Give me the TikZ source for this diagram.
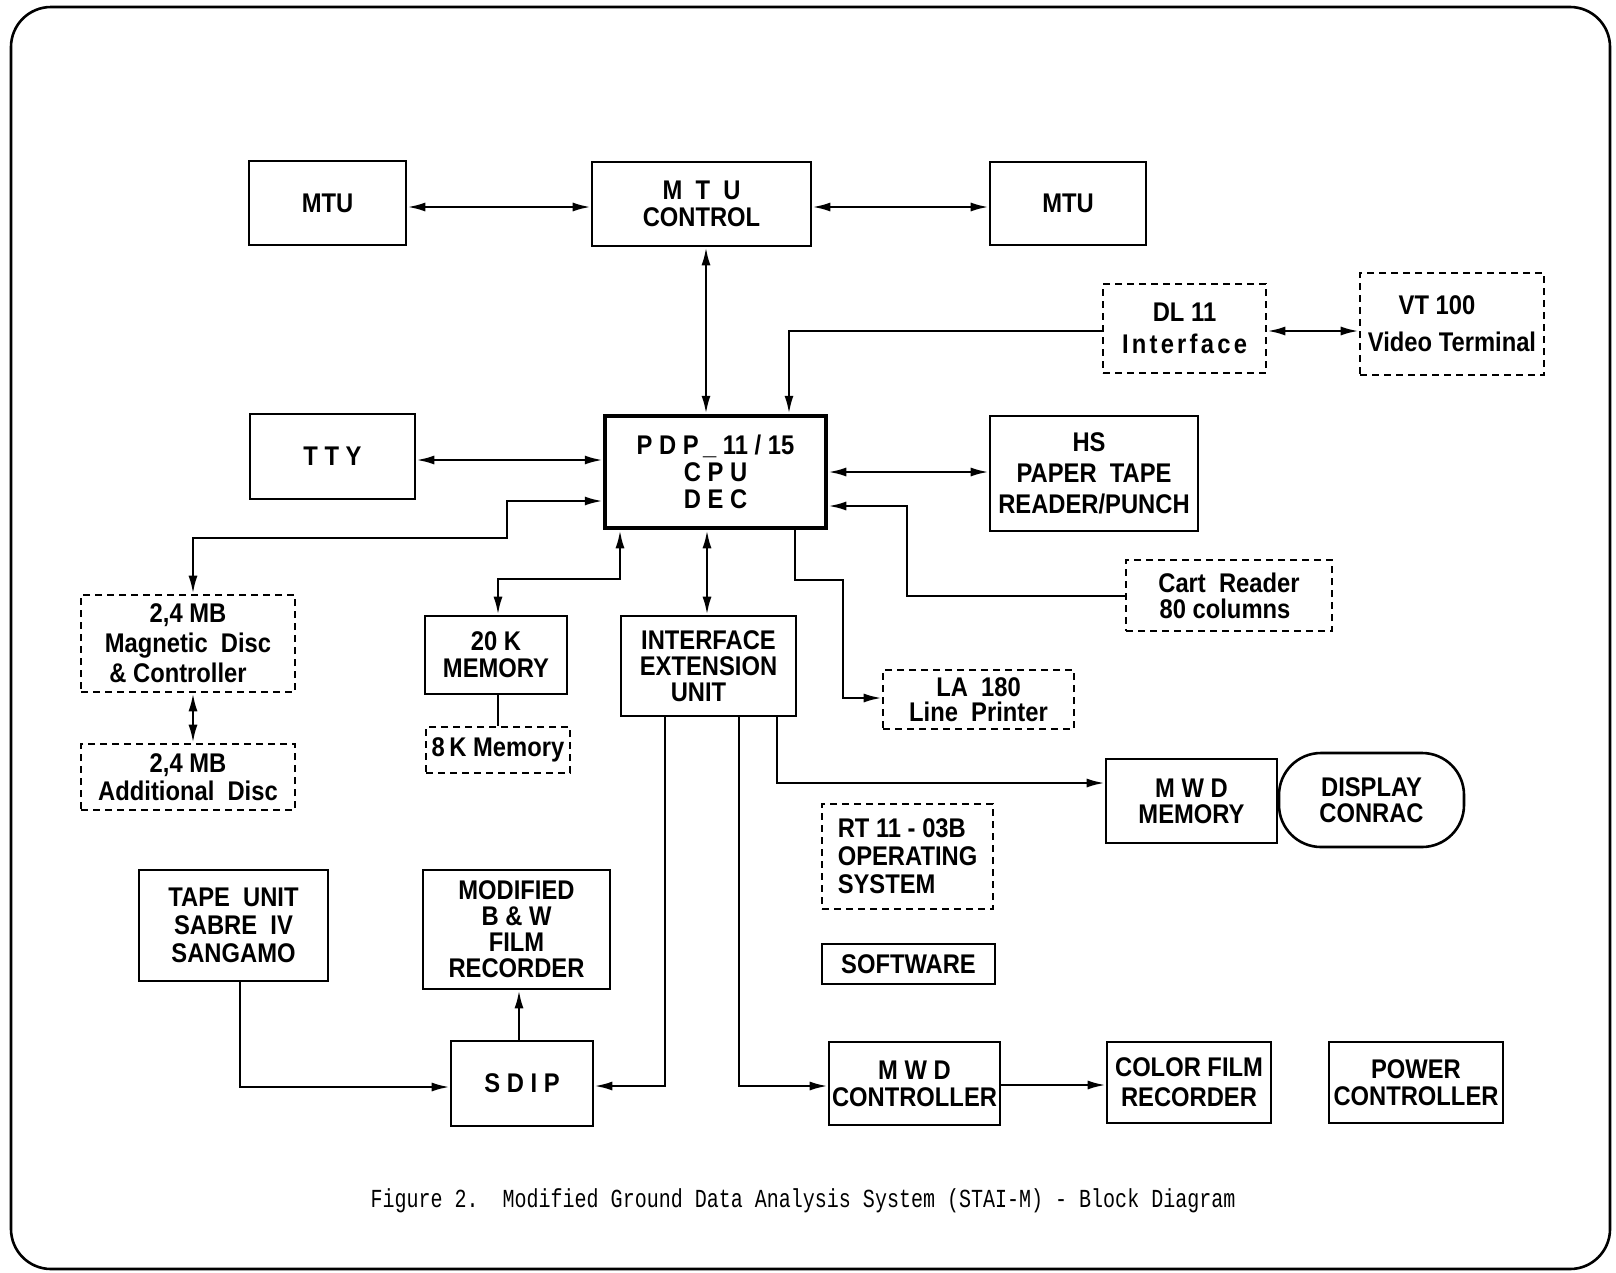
\documentclass[tikz,border=0pt]{standalone}
\usepackage{fontspec}
\usetikzlibrary{arrows.meta}
\newfontfamily\boxfont[FakeStretch=0.88]{Liberation Sans}
\newfontfamily\capfont[FakeStretch=0.77]{Liberation Mono}
\begin{document}
\begin{tikzpicture}[x=1pt,y=-1pt,
  blk/.style={draw, line width=2.6pt, align=center, inner sep=0pt,
    font=\boxfont\bfseries\fontsize{27}{30}\selectfont},
  bs/.style={font=\boxfont\bfseries\fontsize{27}{#1}\selectfont},
  dbox/.style={blk, dash pattern=on 7pt off 5pt},
  sz/.style 2 args={minimum width=#1pt, minimum height=#2pt},
  ln/.style={line width=2.4pt},
  ar/.style={ln,-{Latex[length=18pt,width=9pt]}},
  dar/.style={ln,{Latex[length=18pt,width=9pt]}-{Latex[length=18pt,width=9pt]}}]
\useasboundingbox (0,0) rectangle (1616,1272);
\draw[line width=2.6pt, rounded corners=40pt] (11,7) rectangle (1610,1269);

% nodes
\node[blk, sz={157}{84}] (mtuL) at (327.5,203) {MTU};
\node[blk, bs=27, sz={219}{84}] (mtuC) at (701.5,204) {M\ \ T\ \ U\\CONTROL};
\node[blk, sz={156}{83}] (mtuR) at (1068,203.5) {MTU};
\node[dbox, bs=32, sz={163}{89}] (dl11) at (1184.5,328.5) {DL 11\\{\addfontfeature{LetterSpace=12}Interface}};
\node[dbox, bs=37, sz={184}{102}] (vt100) at (1452,324) {VT 100\hspace*{30pt}\\Video Terminal};
\node[blk, sz={165}{85}] (tty) at (332.5,456.5) {T T Y};
\node[blk, bs=27, line width=4.5pt, sz={221}{112}] (pdp) at (715.5,472) {P D P\,\_\ 11 / 15\\C P U\\D E C};
\node[blk, bs=31, sz={208}{115}] (hs) at (1094,473.5) {HS\hspace*{10pt}\\PAPER\ \ TAPE\\READER/PUNCH};
\node[dbox, bs=26, sz={206}{71}] (cart) at (1229,595.5) {Cart\ \ Reader\\80 columns\hspace*{8pt}};
\node[dbox, sz={214}{97}] (disc1) at (188,643.5) {2,4 MB\\Magnetic\ \ Disc\\\& Controller\hspace*{20pt}};
\node[dbox, bs=28, sz={214}{66}] (disc2) at (188,777) {2,4 MB\\Additional\ \ Disc};
\node[blk, bs=27, sz={142}{78}] (mem20) at (496,655) {20 K\\MEMORY};
\node[dbox, sz={144}{46}] (mem8) at (498,750) {8\,K Memory};
\node[blk, bs=26, sz={175}{100}] (ieu) at (708.5,666) {INTERFACE\\EXTENSION\\UNIT\hspace*{20pt}};
\node[dbox, bs=25, sz={191}{59}] (la180) at (978.5,699.5) {LA\ \ 180\\Line\ \ Printer};
\node[blk, bs=26, sz={171}{84}] (mwdmem) at (1191.5,801) {M W D\\MEMORY};
\node[blk, bs=26, sz={185}{94}, rounded corners=42pt] (disp) at (1371.5,800) {DISPLAY\\CONRAC};
\node[dbox, bs=28, sz={171}{105}, align=left] (rt11) at (907.5,856.5) {RT 11 - 03B\\OPERATING\\SYSTEM};
\node[blk, sz={173}{40}] (soft) at (908.5,964) {SOFTWARE};
\node[blk, bs=28, sz={189}{111}] (tape) at (233.5,925.5) {TAPE\ \ UNIT\\SABRE\ \ IV\\SANGAMO};
\node[blk, bs=26, sz={187}{119}] (bw) at (516.5,929.5) {MODIFIED\\B \& W\\FILM\\RECORDER};
\node[blk, sz={142}{85}] (sdip) at (522,1083.5) {S D I P};
\node[blk, bs=27, sz={171}{83}] (mwdctl) at (914.5,1083.5) {M W D\\CONTROLLER};
\node[blk, bs=30, sz={164}{81}] (color) at (1189,1082.5) {COLOR FILM\\RECORDER};
\node[blk, bs=27, sz={174}{81}] (power) at (1416,1082.5) {POWER\\CONTROLLER};
\node[font=\capfont\fontsize{26}{30}\selectfont] (cap) at (803,1201)
  {Figure 2.\ \ Modified Ground Data Analysis System (STAI-M) - Block Diagram};

% connectors
\draw[dar] (mtuL.east |- 0,207) -- (mtuC.west |- 0,207);
\draw[dar] (mtuC.east |- 0,207) -- (mtuR.west |- 0,207);
\draw[dar] (706,0 |- mtuC.south) -- (706,0 |- pdp.north);
\draw[ar] (dl11.west |- 0,331) -- (789,331) -- (789,0 |- pdp.north);
\draw[dar] (dl11.east |- 0,331) -- (vt100.west |- 0,331);
\draw[dar] (tty.east |- 0,460) -- (pdp.west |- 0,460);
\draw[dar] (pdp.east |- 0,472) -- (hs.west |- 0,472);
\draw[ar] (cart.west |- 0,596) -- (907,596) -- (907,506) -- (pdp.east |- 0,506);
\draw[dar] (pdp.west |- 0,501) -- (507,501) -- (507,538) -- (193,538) -- (193,0 |- disc1.north);
\draw[dar] (193,0 |- disc1.south) -- (193,0 |- disc2.north);
\draw[dar] (620,0 |- pdp.south) -- (620,579) -- (498,579) -- (498,0 |- mem20.north);
\draw[ln] (498,0 |- mem20.south) -- (498,0 |- mem8.north);
\draw[dar] (707,0 |- pdp.south) -- (707,0 |- ieu.north);
\draw[ar] (795,0 |- pdp.south) -- (795,580) -- (843,580) -- (843,698) -- (la180.west |- 0,698);
\draw[ar] (777,0 |- ieu.south) -- (777,783) -- (mwdmem.west |- 0,783);
\draw[ar] (665,0 |- ieu.south) -- (665,1086) -- (sdip.east |- 0,1086);
\draw[ar] (739,0 |- ieu.south) -- (739,1086) -- (mwdctl.west |- 0,1086);
\draw[ar] (240,0 |- tape.south) -- (240,1087) -- (sdip.west |- 0,1087);
\draw[ar] (519,0 |- sdip.north) -- (519,0 |- bw.south);
\draw[ar] (mwdctl.east |- 0,1085) -- (color.west |- 0,1085);
\end{tikzpicture}
\end{document}
